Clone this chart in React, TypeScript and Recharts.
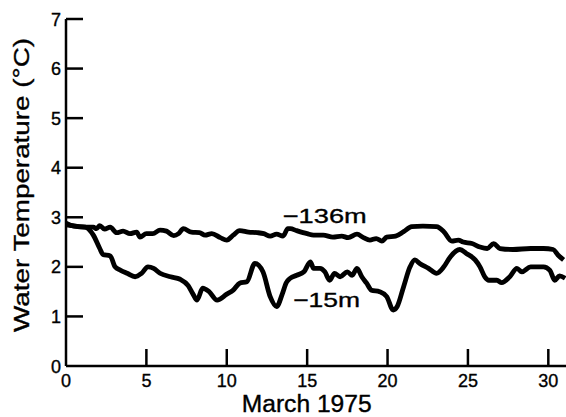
import { LineChart, Line, XAxis, YAxis, ReferenceDot, Label } from "recharts";

// day of March 1975, temperature (°C)
const days15 = [0, 0.6, 1.2, 1.7, 2.1, 2.3, 2.75, 3.05, 3.4, 3.8, 4.3, 4.7, 5.1, 5.45, 5.85, 6.5, 7.1, 7.6, 7.9, 8.15, 8.5, 8.9, 9.4, 10.0, 10.4, 10.8, 11.25, 11.75, 12.25, 12.7, 13.1, 13.45, 13.7, 13.95, 14.35, 14.8, 15.2, 15.4, 15.8, 16.1, 16.4, 16.7, 17.05, 17.5, 17.8, 18.1, 18.4, 18.7, 19.0, 19.5, 19.95, 20.35, 20.6, 21.0, 21.4, 21.7, 22.0, 22.55, 23.05, 23.5, 23.9, 24.5, 24.9, 25.45, 25.75, 26.05, 26.3, 26.8, 27.1, 27.6, 28.05, 28.35, 28.9, 29.7, 30.1, 30.4, 30.7, 31.05];
const temp15 = [2.85, 2.82, 2.8, 2.64, 2.37, 2.25, 2.22, 2.0, 1.93, 1.87, 1.8, 1.87, 2.0, 1.97, 1.87, 1.8, 1.75, 1.62, 1.45, 1.33, 1.57, 1.5, 1.33, 1.45, 1.53, 1.67, 1.7, 2.07, 1.9, 1.4, 1.2, 1.45, 1.68, 1.77, 1.83, 1.9, 2.1, 1.97, 1.97, 1.9, 1.73, 1.87, 1.8, 1.9, 1.83, 1.97, 1.8, 1.67, 1.53, 1.5, 1.4, 1.13, 1.2, 1.6, 2.0, 2.14, 2.07, 1.97, 1.87, 2.0, 2.2, 2.35, 2.27, 2.14, 2.0, 1.8, 1.73, 1.73, 1.68, 1.8, 1.97, 1.9, 2.0, 2.0, 1.93, 1.73, 1.82, 1.77];

const days136 = [0, 0.5, 1.2, 1.7, 1.9, 2.1, 2.4, 2.75, 3.15, 3.55, 3.98, 4.4, 4.6, 5.0, 5.4, 5.85, 6.25, 6.7, 7.0, 7.3, 7.8, 8.3, 8.65, 9.07, 9.6, 10.0, 10.4, 10.8, 11.35, 11.9, 12.3, 12.7, 13.1, 13.5, 13.8, 13.95, 14.35, 15.0, 15.4, 16.0, 16.6, 17.15, 17.55, 18.1, 18.5, 18.9, 19.3, 19.65, 19.95, 20.5, 21.0, 21.5, 22.2, 23.05, 23.5, 24.0, 24.4, 24.7, 25.25, 25.75, 26.2, 26.6, 27.0, 27.8, 28.9, 29.7, 30.3, 30.6, 30.95];
const temp136 = [2.88, 2.82, 2.8, 2.8, 2.77, 2.83, 2.76, 2.8, 2.69, 2.72, 2.67, 2.7, 2.6, 2.67, 2.67, 2.74, 2.72, 2.63, 2.67, 2.77, 2.7, 2.69, 2.64, 2.67, 2.59, 2.54, 2.64, 2.73, 2.7, 2.69, 2.67, 2.62, 2.66, 2.62, 2.77, 2.77, 2.73, 2.67, 2.64, 2.64, 2.6, 2.62, 2.59, 2.66, 2.59, 2.54, 2.57, 2.52, 2.6, 2.62, 2.71, 2.81, 2.82, 2.81, 2.71, 2.52, 2.54, 2.5, 2.47, 2.4, 2.37, 2.47, 2.37, 2.35, 2.37, 2.37, 2.35, 2.24, 2.14];

const xTicks = [0, 5, 10, 15, 20, 25, 30];
const yTicks = [0, 1, 2, 3, 4, 5, 6, 7];

const series15 = days15.map((d, i) => ({ day: d, temp: temp15[i] }));
const series136 = days136.map((d, i) => ({ day: d, temp: temp136[i] }));

const font = "'Liberation Sans', Arial, Helvetica, sans-serif";
const ink = { fill: "#000", stroke: "#000", strokeWidth: 0.35 };

// ticks point inward, like the original figure
function XTick(props: any) {
  const { x, y, payload } = props;
  return (
    <g>
      {payload.value !== 0 && (
        <path d={`M${x},${y}V${y - 17}`} stroke="#000" strokeWidth={2.5} fill="none" />
      )}
      <text x={x} y={y + 21} textAnchor="middle" fontSize={18} fontFamily={font} {...ink}>
        {payload.value}
      </text>
    </g>
  );
}

function YTick(props: any) {
  const { x, y, payload } = props;
  return (
    <g>
      {payload.value !== 0 && (
        <path d={`M${x},${y}H${x + 17}`} stroke="#000" strokeWidth={2.5} fill="none" />
      )}
      <text x={x - 5} y={y + 6.5} textAnchor="end" fontSize={18} fontFamily={font} {...ink}>
        {payload.value}
      </text>
    </g>
  );
}

function tagLabel(text: string, len: number) {
  return (props: any) => {
    const vb = props.viewBox;
    const cx = vb.x + vb.width / 2;
    const cy = vb.y + vb.height / 2;
    return (
      <text x={cx} y={cy} fontSize={21} fontFamily={font} {...ink} textLength={len} lengthAdjust="spacingAndGlyphs">
        {text}
      </text>
    );
  };
}

export default function App() {
  return (
    <div style={{ position: "absolute", left: 0, top: 0, background: "#fff" }}>
      <LineChart width={566} height={417} margin={{ top: 19, right: 0, bottom: 0, left: 0 }}>
        <XAxis
          type="number"
          dataKey="day"
          domain={[0, 31.1]}
          ticks={xTicks}
          allowDataOverflow
          height={51}
          axisLine={{ stroke: "#000", strokeWidth: 2.5 }}
          tickSize={0}
          tickMargin={0}
          tickLine={false}
          tick={(p: any) => <XTick {...p} />}
        >
          <Label
            content={() => (
              <text x={306.7} y={411.7} textAnchor="middle" fontSize={23} fontFamily={font} {...ink} textLength={130} lengthAdjust="spacingAndGlyphs">
                March 1975
              </text>
            )}
          />
        </XAxis>
        <YAxis
          type="number"
          domain={[0, 7]}
          ticks={yTicks}
          width={66}
          axisLine={{ stroke: "#000", strokeWidth: 2.5 }}
          tickSize={0}
          tickMargin={0}
          tickLine={false}
          tick={(p: any) => <YTick {...p} />}
        >
          <Label
            content={() => (
              <text x={29} y={185} transform="rotate(-90, 29, 185)" textAnchor="middle" fontSize={22} fontFamily={font} {...ink} textLength={294} lengthAdjust="spacingAndGlyphs">
                Water Temperature (°C)
              </text>
            )}
          />
        </YAxis>
        <Line data={series136} dataKey="temp" type="monotone" stroke="#000" strokeWidth={4.8} dot={false} isAnimationActive={false} />
        <Line data={series15} dataKey="temp" type="monotone" stroke="#000" strokeWidth={4.8} dot={false} isAnimationActive={false} />
        <ReferenceDot x={13.48} y={2.877} r={1} fill="none" stroke="none" label={tagLabel("−136m", 84)} />
        <ReferenceDot x={14.13} y={1.196} r={1} fill="none" stroke="none" label={tagLabel("−15m", 67)} />
      </LineChart>
    </div>
  );
}
